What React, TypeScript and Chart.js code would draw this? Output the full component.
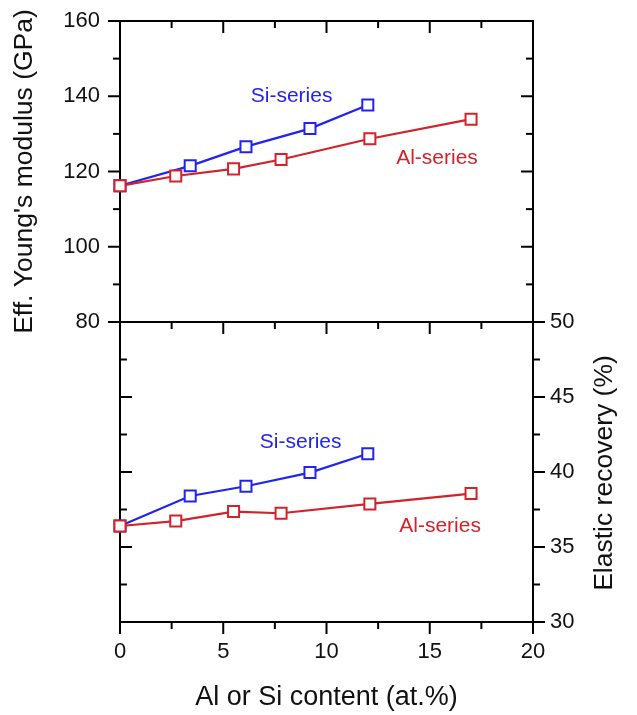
import React, { useEffect, useRef } from 'react';
import { Chart, registerables } from 'chart.js';

Chart.register(...registerables);

// ---------- data ----------
const siContent = [0, 3.4, 6.1, 9.2, 12.0];
const alContent = [0, 2.7, 5.5, 7.8, 12.1, 17.0];
const siModulus = [116.2, 121.5, 126.6, 131.4, 137.7];
const alModulus = [116.2, 118.8, 120.7, 123.2, 128.7, 133.9];
const siRecovery = [36.4, 38.4, 39.05, 39.96, 41.22];
const alRecovery = [36.4, 36.73, 37.36, 37.25, 37.87, 38.56];

const seriesNames = ['Si-series', 'Al-series'];
const xTitle = 'Al or Si content (at.%)';
const modulusTitle = "Eff. Young's modulus (GPa)";
const recoveryTitle = 'Elastic recovery (%)';

// ---------- style ----------
const FONT = '"Liberation Sans", Arial, Helvetica, sans-serif';
const TEXT = '#111111';
const BLUE = '#2323f0';
const RED = '#d3222a';
const W = 637;

type Side = 'left' | 'right' | 'top' | 'bottom';
type TickSpec = { side: Side; min: number; max: number; minor: number; major: number; dir: 'in' | 'out' };
type Note = { text: string; x: number; y: number; color: string };

const pts = (xs: number[], ys: number[]) => xs.map((x, i) => ({ x, y: ys[i] }));

function framePlugin(ticks: TickSpec[], notes: Note[], rightTitle?: string) {
  return {
    id: 'frameTicks',
    beforeDatasetsDraw(chart: any) {
      const { ctx, chartArea: a } = chart;
      const xs = chart.scales.x;
      const ys = chart.scales.y;
      ctx.save();
      ctx.strokeStyle = '#000';
      ctx.lineWidth = 2;
      ctx.lineCap = 'butt';
      ctx.strokeRect(a.left, a.top, a.right - a.left, a.bottom - a.top);
      for (const t of ticks) {
        for (let v = t.min; v <= t.max + 1e-9; v += t.minor) {
          const isMajor = Math.abs(v / t.major - Math.round(v / t.major)) < 1e-6;
          const len = isMajor ? 12 : 7;
          ctx.beginPath();
          if (t.side === 'left' || t.side === 'right') {
            const p = ys.getPixelForValue(v);
            const x0 = t.side === 'left' ? a.left : a.right;
            const sgn = (t.side === 'left') === (t.dir === 'out') ? -1 : 1;
            ctx.moveTo(x0, p);
            ctx.lineTo(x0 + sgn * len, p);
          } else {
            const p = xs.getPixelForValue(v);
            const y0 = t.side === 'top' ? a.top : a.bottom;
            const sgn = (t.side === 'top') === (t.dir === 'out') ? -1 : 1;
            ctx.moveTo(p, y0);
            ctx.lineTo(p, y0 + sgn * len);
          }
          ctx.stroke();
        }
      }
      ctx.restore();
    },
    afterDatasetsDraw(chart: any) {
      const { ctx, chartArea: a } = chart;
      const xs = chart.scales.x;
      const ys = chart.scales.y;
      ctx.save();
      ctx.font = `21px ${FONT}`;
      ctx.textAlign = 'center';
      ctx.textBaseline = 'middle';
      for (const n of notes) {
        ctx.fillStyle = n.color;
        ctx.fillText(n.text, xs.getPixelForValue(n.x), ys.getPixelForValue(n.y));
      }
      if (rightTitle) {
        ctx.fillStyle = TEXT;
        ctx.font = `26.5px ${FONT}`;
        ctx.translate(a.right + 72, (a.top + a.bottom) / 2 + 1);
        ctx.rotate(-Math.PI / 2);
        ctx.fillText(rightTitle, 0, 0);
      }
      ctx.restore();
    },
  };
}

const lineDs = (label: string, data: { x: number; y: number }[], color: string) => ({
  label,
  data,
  showLine: true,
  borderColor: color,
  borderWidth: 2.2,
  pointStyle: 'rect',
  pointRadius: 7.8,
  pointBorderWidth: 2,
  pointBorderColor: color,
  pointBackgroundColor: '#ffffff',
  tension: 0,
  clip: false,
});

const tickFont = { family: FONT, size: 22 };

const noVPad = (width: number) => (s: any) => {
  s.width = width;
  s.paddingTop = 0;
  s.paddingBottom = 0;
};

function topConfig(): any {
  return {
    type: 'scatter',
    data: {
      datasets: [
        lineDs(seriesNames[1], pts(alContent, alModulus), RED),
        lineDs(seriesNames[0], pts(siContent, siModulus), BLUE),
      ],
    },
    options: {
      responsive: false,
      animation: false,
      layout: { padding: { top: 21, right: 104, bottom: 13, left: 0 } },
      plugins: { legend: { display: false }, tooltip: { enabled: false } },
      scales: {
        x: { type: 'linear', display: false, min: 0, max: 20 },
        y: {
          type: 'linear',
          position: 'left',
          min: 80,
          max: 160,
          afterFit: noVPad(120),
          grid: { display: false, drawTicks: false },
          border: { display: false },
          ticks: { stepSize: 20, padding: 20, color: TEXT, font: tickFont },
          title: {
            display: true,
            text: modulusTitle,
            color: TEXT,
            font: { family: FONT, size: 26.5 },
            padding: { top: 9, bottom: 0 },
          },
        },
      },
    },
    plugins: [
      framePlugin(
        [
          { side: 'left', min: 80, max: 160, minor: 10, major: 20, dir: 'out' },
          { side: 'right', min: 80, max: 160, minor: 10, major: 20, dir: 'in' },
          { side: 'top', min: 0, max: 20, minor: 2.5, major: 5, dir: 'in' },
        ],
        [
          { text: seriesNames[0], x: 8.31, y: 139.9, color: BLUE },
          { text: seriesNames[1], x: 15.35, y: 123.6, color: RED },
        ]
      ),
    ],
  };
}

function bottomConfig(): any {
  return {
    type: 'scatter',
    data: {
      datasets: [
        lineDs(seriesNames[1], pts(alContent, alRecovery), RED),
        lineDs(seriesNames[0], pts(siContent, siRecovery), BLUE),
      ],
    },
    options: {
      responsive: false,
      animation: false,
      layout: { padding: { top: 22, right: 0, bottom: 0, left: 120 } },
      plugins: { legend: { display: false }, tooltip: { enabled: false } },
      scales: {
        x: {
          type: 'linear',
          position: 'bottom',
          min: 0,
          max: 20,
          afterFit: (s: any) => { s.height = 93; },
          grid: { display: false, drawTicks: false },
          border: { display: false },
          ticks: { stepSize: 5, padding: 17, color: TEXT, font: tickFont },
          title: {
            display: true,
            text: xTitle,
            color: TEXT,
            font: { family: FONT, size: 27 },
            padding: { top: 0, bottom: 1 },
          },
        },
        y: {
          type: 'linear',
          position: 'right',
          min: 30,
          max: 50,
          afterFit: noVPad(104),
          grid: { display: false, drawTicks: false },
          border: { display: false },
          ticks: { stepSize: 5, padding: 17, color: TEXT, font: tickFont },
        },
      },
    },
    plugins: [
      framePlugin(
        [
          { side: 'left', min: 30, max: 50, minor: 2.5, major: 5, dir: 'in' },
          { side: 'right', min: 30, max: 50, minor: 2.5, major: 5, dir: 'out' },
          { side: 'top', min: 0, max: 20, minor: 2.5, major: 5, dir: 'in' },
          { side: 'bottom', min: 0, max: 20, minor: 2.5, major: 5, dir: 'out' },
        ],
        [
          { text: seriesNames[0], x: 8.75, y: 42.0, color: BLUE },
          { text: seriesNames[1], x: 15.5, y: 36.38, color: RED },
        ],
        recoveryTitle
      ),
    ],
  };
}

function ChartCanvas({ make, top, height }: { make: () => any; top: number; height: number }) {
  const ref = useRef<HTMLCanvasElement>(null);
  useEffect(() => {
    const chart = new Chart(ref.current as HTMLCanvasElement, make());
    return () => chart.destroy();
  }, []);
  return (
    <canvas
      ref={ref}
      width={W}
      height={height}
      style={{ position: 'absolute', left: 0, top, width: W, height }}
    />
  );
}

export default function App() {
  return (
    <div style={{ position: 'absolute', left: 0, top: 0, width: W, height: 715, background: '#fff', overflow: 'hidden' }}>
      <ChartCanvas make={topConfig} top={0} height={335} />
      <ChartCanvas make={bottomConfig} top={300} height={415} />
    </div>
  );
}
